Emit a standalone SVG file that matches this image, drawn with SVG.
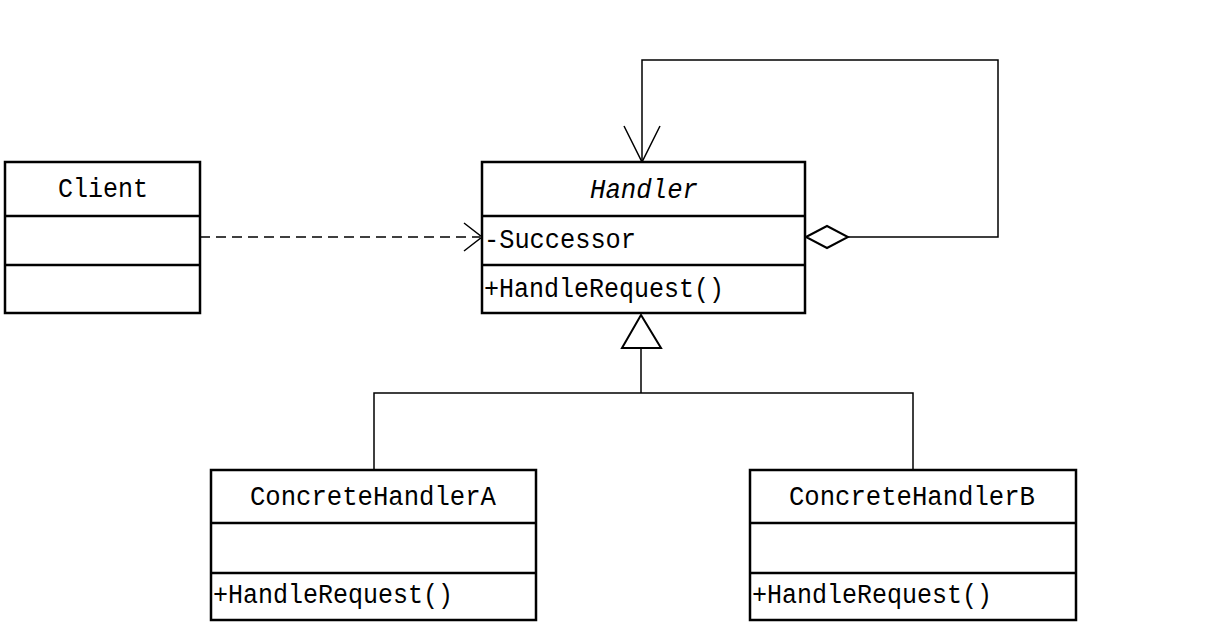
<svg xmlns="http://www.w3.org/2000/svg" width="1217" height="628" viewBox="0 0 1217 628">
<style>
.box{fill:#fff;stroke:#000;stroke-width:2.5}
.div{stroke:#000;stroke-width:2.5}
.t{font-family:"Liberation Mono","DejaVu Sans Mono",monospace;font-size:27px;fill:#000}
.m{font-family:"Liberation Mono","DejaVu Sans Mono",monospace;font-size:27px;fill:#000}
.c{fill:none;stroke:#000;stroke-width:1.5}
</style>
<rect width="1217" height="628" fill="#fff"/>
<g id="connectors">
<path class="c" d="M200 237 H480" stroke-dasharray="10 6"/>
<path class="c" d="M464 223 L482 237 L464 251"/>
<path class="c" d="M848 237 H998 V60 H642 V162"/>
<path class="c" d="M624 126 L642 162 L660 126" stroke-width="2.2"/>
<path d="M806 237 L827 226 L848 237 L827 248 Z" fill="#fff" stroke="#000" stroke-width="2"/>
<path class="c" d="M641 348 V393 M374 470 V393 H913 V470"/>
<path d="M641 315 L622 348 L661 348 Z" fill="#fff" stroke="#000" stroke-width="2"/>
</g>
<g id="client">
<rect class="box" x="5" y="162" width="195" height="151"/>
<line class="div" x1="5" y1="216" x2="200" y2="216"/>
<line class="div" x1="5" y1="265" x2="200" y2="265"/>
<text class="t" x="103" y="197" text-anchor="middle" textLength="90" lengthAdjust="spacingAndGlyphs">Client</text>
</g>
<g id="handler">
<rect class="box" x="482" y="162" width="323" height="151"/>
<line class="div" x1="482" y1="216" x2="805" y2="216"/>
<line class="div" x1="482" y1="265" x2="805" y2="265"/>
<text class="t" x="644" y="198" text-anchor="middle" font-style="italic" textLength="108" lengthAdjust="spacingAndGlyphs">Handler</text>
<text class="m" x="484" y="248" textLength="152" lengthAdjust="spacingAndGlyphs">-Successor</text>
<text class="m" x="484" y="297" textLength="240" lengthAdjust="spacingAndGlyphs">+HandleRequest()</text>
</g>
<g id="concreteA">
<rect class="box" x="211" y="470" width="325" height="150"/>
<line class="div" x1="211" y1="523" x2="536" y2="523"/>
<line class="div" x1="211" y1="573" x2="536" y2="573"/>
<text class="t" x="373" y="505" text-anchor="middle" textLength="246" lengthAdjust="spacingAndGlyphs">ConcreteHandlerA</text>
<text class="m" x="213" y="603" textLength="240" lengthAdjust="spacingAndGlyphs">+HandleRequest()</text>
</g>
<g id="concreteB">
<rect class="box" x="750" y="470" width="326" height="150"/>
<line class="div" x1="750" y1="523" x2="1076" y2="523"/>
<line class="div" x1="750" y1="573" x2="1076" y2="573"/>
<text class="t" x="912" y="505" text-anchor="middle" textLength="246" lengthAdjust="spacingAndGlyphs">ConcreteHandlerB</text>
<text class="m" x="752" y="603" textLength="240" lengthAdjust="spacingAndGlyphs">+HandleRequest()</text>
</g>
</svg>
